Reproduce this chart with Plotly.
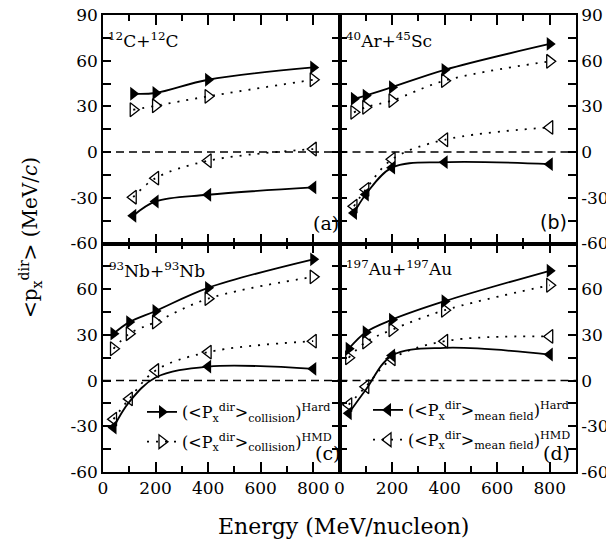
import plotly.graph_objects as go

# ---------------- data ----------------
energy_a = [115, 200, 400, 800]
a_coll_hard = [38.3, 38.8, 47.5, 55.6]
a_coll_hmd = [27.8, 30.4, 36.6, 47.5]
a_mf_hard = [-41.8, -32.4, -28.0, -23.2]
a_mf_hmd = [-29.6, -17.1, -5.7, 2.0]

energy_b = [55, 100, 200, 400, 800]
b_coll_hard = [35.0, 37.1, 42.6, 54.0, 71.0]
b_coll_hmd = [26.1, 29.4, 33.8, 46.9, 59.6]
b_mf_hard = [-40.0, -27.8, -10.2, -6.6, -7.9]
b_mf_hmd = [-35.5, -24.5, -4.7, 8.1, 16.2]

energy_c = [40, 100, 200, 400, 800]
c_coll_hard = [30.8, 38.4, 45.7, 60.9, 79.6]
c_coll_hmd = [20.9, 30.8, 38.4, 53.8, 68.1]
c_mf_hard = [-30.8, -14.0, 2.0, 9.2, 7.7]
c_mf_hmd = [-25.3, -12.0, 6.6, 18.7, 25.9]

energy_d = [35, 100, 200, 400, 800]
d_coll_hard = [20.9, 31.8, 40.0, 52.1, 72.1]
d_coll_hmd = [15.0, 25.3, 33.4, 46.2, 62.6]
d_mf_hard = [-21.5, -6.0, 16.5, 21.5, 17.1]
d_mf_hmd = [-15.8, -4.0, 14.3, 25.9, 29.0]

panel_titles = ["<sup>12</sup>C+<sup>12</sup>C", "<sup>40</sup>Ar+<sup>45</sup>Sc",
                "<sup>93</sup>Nb+<sup>93</sup>Nb", "<sup>197</sup>Au+<sup>197</sup>Au"]
panel_tags = ["(a)", "(b)", "(c)", "(d)"]

x_tick_vals = [0, 200, 400, 600, 800]
x_tick_text = ["0", "200", "400", "600", "800"]
x_minor_vals = [100, 300, 500, 700]
y_tick_vals_top = [-60, -30, 0, 30, 60, 90]
y_tick_text_top = ["-60", "-30", "0", "30", "60", "90"]
y_tick_vals_bot = [-60, -30, 0, 30, 60]
y_tick_text_bot = ["-60", "-30", "0", "30", "60"]
y_minor_vals = [-45, -15, 15, 45, 75]

name_coll_hard = "(&lt;P<sub>x</sub><sup>dir</sup>&gt;<sub>collision</sub>)<sup>Hard</sup>"
name_coll_hmd = "(&lt;P<sub>x</sub><sup>dir</sup>&gt;<sub>collision</sub>)<sup>HMD</sup>"
name_mf_hard = "(&lt;P<sub>x</sub><sup>dir</sup>&gt;<sub>mean field</sub>)<sup>Hard</sup>"
name_mf_hmd = "(&lt;P<sub>x</sub><sup>dir</sup>&gt;<sub>mean field</sub>)<sup>HMD</sup>"

# ---------------- layout helpers ----------------
# the page body has an 8px margin, so the figure is drawn 8px in from the corner
OFF = 8
W, H = 614 - OFF, 554 - OFF
L, R, T, B = 103, 576, 15, 472          # frame edges in window pixels
SERIF = "DejaVu Serif"
SANS = "DejaVu Sans"


def px(xp):
    return (xp - L) / (R - L)


def py(yp):
    return (B - yp) / (B - T)


fig = go.Figure()

# which filled mean-field markers are drawn (others sit under the open markers)
panels = [
    ("3", energy_a, a_coll_hard, a_coll_hmd, a_mf_hard, a_mf_hmd, [1, 1, 1, 1], None),
    ("4", energy_b, b_coll_hard, b_coll_hmd, b_mf_hard, b_mf_hmd, [1, 1, 1, 1, 1], None),
    ("", energy_c, c_coll_hard, c_coll_hmd, c_mf_hard, c_mf_hmd, [1, 0, 0, 1, 1], "legend"),
    ("2", energy_d, d_coll_hard, d_coll_hmd, d_mf_hard, d_mf_hmd, [1, 0, 1, 0, 1], "legend2"),
]

MS = 12
solid = dict(color="black", width=1.8, shape="spline")
dotted = dict(color="black", width=1.8, dash="2px,7px", shape="spline")

for suf, en, ch, cm, mh, mm, vis, leg in panels:
    xa, ya = "x" + suf, "y" + suf
    show_coll = leg == "legend"
    show_mf = leg == "legend2"
    fig.add_trace(go.Scatter(
        x=en, y=ch, xaxis=xa, yaxis=ya, mode="lines+markers", line=solid,
        marker=dict(symbol="triangle-right", size=MS, color="black"),
        name=name_coll_hard, showlegend=show_coll, legend="legend", legendgroup="g1" + suf))
    fig.add_trace(go.Scatter(
        x=en, y=cm, xaxis=xa, yaxis=ya, mode="lines+markers", line=dotted,
        marker=dict(symbol="triangle-right-open", size=MS, color="black", line=dict(width=1.3)),
        name=name_coll_hmd, showlegend=show_coll, legend="legend", legendgroup="g2" + suf))
    fig.add_trace(go.Scatter(
        x=en, y=mh, xaxis=xa, yaxis=ya, mode="lines+markers", line=solid,
        marker=dict(symbol="triangle-left", size=MS,
                    color=["black" if v else "rgba(0,0,0,0)" for v in vis]),
        name=name_mf_hard, showlegend=show_mf, legend="legend2", legendgroup="g3" + suf))
    fig.add_trace(go.Scatter(
        x=en, y=mm, xaxis=xa, yaxis=ya, mode="lines+markers", line=dotted,
        marker=dict(symbol="triangle-left-open", size=MS, color="black", line=dict(width=1.3)),
        name=name_mf_hmd, showlegend=show_mf, legend="legend2", legendgroup="g4" + suf))
    fig.add_shape(type="line", xref=xa + " domain", yref=ya, x0=0, x1=1, y0=0, y1=0,
                  line=dict(color="black", width=1.5, dash="8px,5px"))

tickfont = dict(family=SERIF, size=17, color="black")


def xaxis(domain, anchor, labels):
    return dict(domain=domain, anchor=anchor, range=[0, 900], showgrid=False, zeroline=False,
                automargin=False, ticklabeloverflow="allow",
                showline=True, linecolor="black", linewidth=1.5, mirror="ticks",
                ticks="inside", ticklen=10, tickwidth=1.6, tickcolor="black",
                tickmode="array", tickvals=x_tick_vals, ticktext=x_tick_text,
                showticklabels=labels, tickfont=tickfont,
                minor=dict(tickmode="array", tickvals=x_minor_vals, ticks="inside",
                           ticklen=6, tickwidth=1.6, tickcolor="black"))


def yaxis(domain, anchor, side, vals, text):
    return dict(domain=domain, anchor=anchor, range=[-60, 90], side=side, showgrid=False,
                zeroline=False, automargin=False, ticklabeloverflow="allow",
                showline=True, linecolor="black", linewidth=1.5, mirror="ticks",
                ticks="inside", ticklen=8, tickwidth=1.6, tickcolor="black",
                tickmode="array", tickvals=vals, ticktext=text, tickfont=tickfont,
                minor=dict(tickmode="array", tickvals=y_minor_vals, ticks="inside",
                           ticklen=8, tickwidth=1.6, tickcolor="black"))


annotations = []
title_pos = [(106, 40), (344, 40), (107, 270), (344, 268)]
for (xp, yp), t in zip(title_pos, panel_titles):
    annotations.append(dict(text=t, x=px(xp), y=py(yp), xref="paper", yref="paper",
                            xanchor="left", yanchor="middle", showarrow=False,
                            font=dict(family=SERIF, size=17, color="black")))
tag_pos = [(326, 223), (553, 222), (327, 453), (556, 453)]
tag_fonts = [SERIF, SANS, SERIF, SERIF]
for (xp, yp), t, f in zip(tag_pos, panel_tags, tag_fonts):
    annotations.append(dict(text=t, x=px(xp), y=py(yp), xref="paper", yref="paper",
                            xanchor="center", yanchor="middle", showarrow=False,
                            font=dict(family=f, size=19, color="black")))
annotations.append(dict(text="&lt;p<sub>x</sub><sup>dir</sup>&gt; (MeV/<i>c</i>)",
                        x=px(31), y=py(238), xref="paper", yref="paper", textangle=-90,
                        xanchor="center", yanchor="middle", showarrow=False,
                        font=dict(family=SERIF, size=20, color="black")))
annotations.append(dict(text="Energy (MeV/nucleon)", x=px(343), y=py(526),
                        xref="paper", yref="paper", xanchor="center", yanchor="middle",
                        showarrow=False, font=dict(family=SERIF, size=22, color="black")))

legfont = dict(family=SERIF, size=16, color="black")
fig.update_layout(
    width=W, height=H,
    margin=dict(l=L - OFF, r=614 - R, t=T - OFF, b=554 - B, pad=0, autoexpand=False),
    paper_bgcolor="white", plot_bgcolor="white",
    font=dict(family=SERIF, color="black"),
    xaxis=xaxis([0, 0.5], "y", True),
    yaxis=yaxis([0, 0.5], "x", "left", y_tick_vals_bot, y_tick_text_bot),
    xaxis2=xaxis([0.5, 1], "y2", True),
    yaxis2=yaxis([0, 0.5], "x2", "right", y_tick_vals_bot, y_tick_text_bot),
    xaxis3=xaxis([0, 0.5], "y3", False),
    yaxis3=yaxis([0.5, 1], "x3", "left", y_tick_vals_top, y_tick_text_top),
    xaxis4=xaxis([0.5, 1], "y4", False),
    yaxis4=yaxis([0.5, 1], "x4", "right", y_tick_vals_top, y_tick_text_top),
    legend=dict(x=px(142), y=py(395), xanchor="left", yanchor="top", bgcolor="rgba(0,0,0,0)",
                font=legfont, tracegroupgap=6, itemwidth=30),
    legend2=dict(x=px(368), y=py(393), xanchor="left", yanchor="top", bgcolor="rgba(0,0,0,0)",
                 font=legfont, tracegroupgap=6, itemwidth=30),
    annotations=annotations,
)

fig.write_html("out.html")
